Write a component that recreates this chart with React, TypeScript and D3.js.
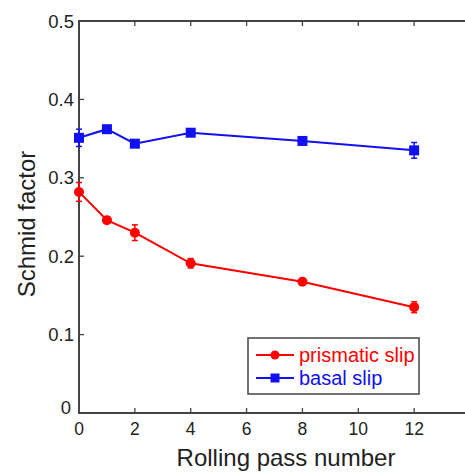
import React from "react";
import * as d3 from "d3";

const passes = [0, 1, 2, 4, 8, 12];
const prismatic = [0.282, 0.246, 0.23, 0.191, 0.1675, 0.135];
const prismaticErr = [0.012, 0.004, 0.01, 0.006, 0.003, 0.007];
const basal = [0.351, 0.362, 0.3435, 0.3575, 0.347, 0.335];
const basalErr = [0.011, 0.003, 0.003, 0.004, 0.003, 0.01];
const xTicks = [0, 2, 4, 6, 8, 10, 12];
const yTicks = [0, 0.1, 0.2, 0.3, 0.4, 0.5];
const seriesNames = ["prismatic slip", "basal slip"];

const W = 465;
const H = 472;
const left = 79;
const right = 470;
const top = 21;
const bottom = 413;

export default function App() {
  const x = d3.scaleLinear().domain([0, 14]).range([left, right]);
  const y = d3.scaleLinear().domain([0, 0.5]).range([bottom, top]);
  const line = d3
    .line<number>()
    .x((_, i) => x(passes[i]))
    .y((d) => y(d));
  const red = "#ff0000";
  const blue = "#1010f0";
  const axisColor = "#444";
  const font = "Liberation Sans, Arial, sans-serif";
  const tickLen = 5;

  const errBars = (vals: number[], errs: number[], color: string) =>
    vals.map((v, i) => {
      const cx = x(passes[i]);
      const y1 = y(v - errs[i]);
      const y2 = y(v + errs[i]);
      return (
        <g key={i} stroke={color} strokeWidth={1.5}>
          <line x1={cx} x2={cx} y1={y1} y2={y2} />
          <line x1={cx - 3} x2={cx + 3} y1={y1} y2={y1} />
          <line x1={cx - 3} x2={cx + 3} y1={y2} y2={y2} />
        </g>
      );
    });

  return (
    <svg
      width={W}
      height={H}
      style={{ position: "absolute", left: 0, top: 0, background: "#fff" }}
    >
      <rect x={0} y={0} width={W} height={H} fill="#fff" />
      <rect
        x={left}
        y={top}
        width={right - left}
        height={bottom - top}
        fill="none"
        stroke={axisColor}
        strokeWidth={2}
      />
      {xTicks.map((t) => (
        <g key={"xt" + t}>
          <line x1={x(t)} x2={x(t)} y1={bottom} y2={bottom - tickLen} stroke={axisColor} strokeWidth={1.3} />
          <line x1={x(t)} x2={x(t)} y1={top} y2={top + tickLen} stroke={axisColor} strokeWidth={1.3} />
          <text
            x={x(t)}
            y={435}
            textAnchor="middle"
            fontFamily={font}
            fontSize={17.5}
            fill="#222"
          >
            {t}
          </text>
        </g>
      ))}
      {yTicks.map((t) => (
        <g key={"yt" + t}>
          <line x1={left} x2={left + tickLen} y1={y(t)} y2={y(t)} stroke={axisColor} strokeWidth={1.3} />
          <line x1={right} x2={right - tickLen} y1={y(t)} y2={y(t)} stroke={axisColor} strokeWidth={1.3} />
          <text
            x={t === 0 ? 71 : 74}
            y={t === 0 ? y(t) + 1 : y(t) + 6.5}
            textAnchor="end"
            fontFamily={font}
            fontSize={18.5}
            fill="#222"
          >
            {t === 0 ? "0" : t.toFixed(1)}
          </text>
        </g>
      ))}
      <text
        x={286}
        y={466}
        textAnchor="middle"
        fontFamily={font}
        fontSize={24}
        fill="#222"
      >
        Rolling pass number
      </text>
      <text
        transform={`translate(35, 224) rotate(-90)`}
        textAnchor="middle"
        fontFamily={font}
        fontSize={24}
        fill="#222"
      >
        Schmid factor
      </text>
      <path d={line(basal) || ""} fill="none" stroke={blue} strokeWidth={2} />
      <path d={line(prismatic) || ""} fill="none" stroke={red} strokeWidth={2} />
      {errBars(basal, basalErr, blue)}
      {errBars(prismatic, prismaticErr, red)}
      {basal.map((v, i) => (
        <rect
          key={"b" + i}
          x={x(passes[i]) - 5}
          y={y(v) - 5}
          width={10}
          height={10}
          fill={blue}
        />
      ))}
      {prismatic.map((v, i) => (
        <circle key={"p" + i} cx={x(passes[i])} cy={y(v)} r={5} fill={red} />
      ))}
      <rect x={248} y={338} width={171} height={56} fill="#fff" stroke={axisColor} strokeWidth={1.5} />
      {seriesNames.map((name, i) => {
        const ly = i === 0 ? 355 : 378;
        const c = i === 0 ? red : blue;
        return (
          <g key={name}>
            <line x1={256} x2={294} y1={ly} y2={ly} stroke={c} strokeWidth={2} />
            {i === 0 ? (
              <circle cx={275} cy={ly} r={4.5} fill={c} />
            ) : (
              <rect x={270.5} y={ly - 4.5} width={9} height={9} fill={c} />
            )}
            <text x={299} y={ly + 7} fontFamily={font} fontSize={20} fill={c}>
              {name}
            </text>
          </g>
        );
      })}
    </svg>
  );
}
